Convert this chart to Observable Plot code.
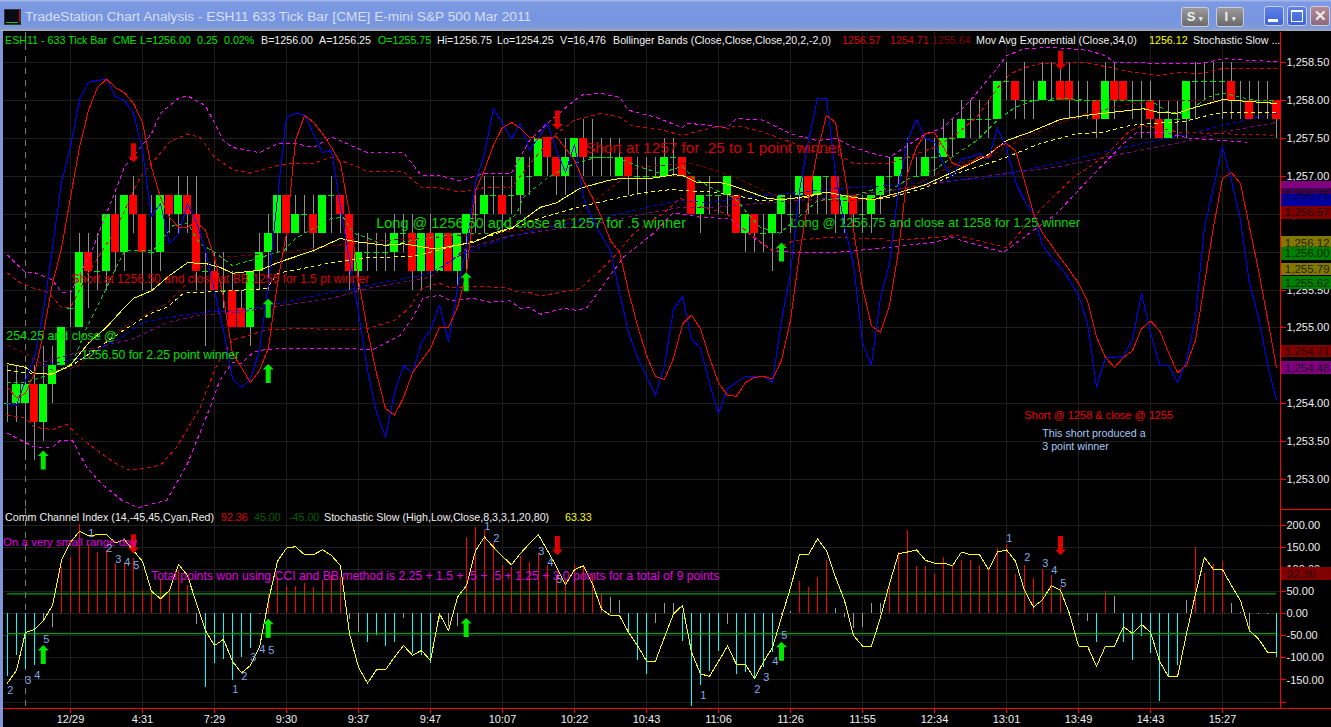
<!DOCTYPE html>
<html><head><meta charset="utf-8">
<script src="https://cdn.jsdelivr.net/npm/d3@7"></script>
<script src="https://cdn.jsdelivr.net/npm/@observablehq/plot@0.6"></script>
<style>
html,body{margin:0;padding:0;background:#000;width:1331px;height:727px;overflow:hidden;font-family:"Liberation Sans",Arial,sans-serif}
#bar{position:absolute;left:0;top:0;width:1331px;height:31px;background:linear-gradient(#a9bdec 0,#7c99e2 8%,#7795e0 70%,#7f9ad8 90%,#a8aeb8 100%)}
#title{position:absolute;left:25px;top:9px;font-size:13.7px;color:#d5dff3;white-space:nowrap}
.ic{position:absolute;box-sizing:border-box;border-radius:3px;color:#eee;font-weight:bold;text-align:center}
.lg{position:absolute;font-size:10.7px;white-space:nowrap;line-height:13px}
#pp,#cp{position:absolute;left:0}
#pp{top:32px}#cp{top:508px}
svg{display:block;overflow:visible}
#lb{position:absolute;left:0;top:31px;width:3px;height:696px;background:#7f96d8}
</style></head><body>
<div id="pp"></div><div id="cp"></div>
<div id="lb"></div>
<div id="bar">
 <div style="position:absolute;left:4px;top:9px;width:15px;height:14px;background:#0a0a14;border:1px solid #334"><div style="position:absolute;left:1px;bottom:1px;width:12px;height:1px;background:#0c0"></div><div style="position:absolute;right:0;top:0;width:1px;height:12px;background:#c00"></div></div>
 <div id="title">TradeStation Chart Analysis - ESH11 633 Tick Bar [CME] E-mini S&amp;P 500 Mar 2011</div>
 <div class="ic" style="left:1181px;top:7px;width:28px;height:20px;background:linear-gradient(#9a9a9a,#6a6a6a);border:1px solid #ccd;font-size:13px;line-height:18px">S <span style="font-size:7px">▾</span></div>
 <div class="ic" style="left:1216px;top:7px;width:28px;height:20px;background:linear-gradient(#9a9a9a,#6a6a6a);border:1px solid #ccd;font-size:13px;line-height:18px">I <span style="font-size:7px">▾</span></div>
 <div class="ic" style="left:1264px;top:6px;width:20px;height:20px;background:linear-gradient(#5d82e8,#3b62d8);border:1px solid #ccd"><div style="position:absolute;left:3px;bottom:3px;width:10px;height:3px;background:#fff"></div></div>
 <div class="ic" style="left:1287px;top:6px;width:20px;height:20px;background:linear-gradient(#5d82e8,#3b62d8);border:1px solid #ccd"><div style="position:absolute;left:3px;top:3px;width:10px;height:9px;border:1px solid #fff;border-top-width:2px"></div></div>
 <div class="ic" style="left:1310px;top:6px;width:20px;height:20px;background:linear-gradient(#b58a98,#8d6a7a);border:1px solid #ccd;font-size:15px;line-height:17px">✕</div>
</div>
<script>
// ---------- bars ----------
const opens=[1254,1254,1254,1254.25,1253.75,1254.25,1254.5,1255.25,1255,1256,
1255.75,1255.75,1256.5,1256,1256.75,1256.5,1256,1256,1256.75,1256.5,
1256.75,1256.5,1255.75,1255.75,1255.5,1255.5,1255.25,1255,1255.75,1256,
1256.25,1256.75,1256.25,1256.5,1256.5,1256.25,1256.75,1256.75,1256.5,1255.75,
1256,1256,1256,1256,1256.25,1256.25,1255.75,1256.25,1255.75,1256.25,
1255.75,1256.25,1256.5,1256.5,1256.75,1256.75,1256.75,1256.75,1257,1257,
1257.5,1257.25,1257,1257.25,1257.5,1257.25,1257.25,1257.25,1257,1257.25,
1257,1257,1257,1257,1257.25,1257.25,1257,1256.5,1256.75,1256.75,
1256.75,1256.75,1256.25,1256.5,1256.25,1256.25,1256.5,1256.5,1256.75,1257,
1256.75,1257,1257,1256.5,1256.75,1256.5,1256.5,1256.75,1257,1257,
1257.25,1257,1257,1257.25,1257.25,1257.5,1257.5,1257.75,1257.75,1257.75,
1257.75,1258.25,1258.25,1258,1258,1258,1258,1258.25,1258.25,1258,
1258,1258,1257.75,1258.25,1258.25,1258,1258,1258,1257.75,1257.5,
1257.75,1257.75,1258.25,1258.25,1258.25,1258.25,1258.25,1258,1258,1258,
1258,1258];
const closes=[1254,1254.25,1254.25,1253.75,1254.25,1254.5,1255,1255.25,1256,1255.75,
1255.75,1256.5,1256,1256.75,1256.5,1256,1256,1256.75,1256.5,1256.75,
1256.5,1255.75,1255.75,1255.5,1255.5,1255,1255,1255.75,1256,1256.25,
1256.75,1256.25,1256.5,1256.5,1256.25,1256.75,1256.75,1256.5,1255.75,1256,
1256,1256,1256,1256.25,1256.25,1255.75,1256.25,1255.75,1256.25,1255.75,
1256.25,1256.5,1256.5,1256.75,1256.75,1256.5,1256.75,1257.25,1257,1257.5,
1257.25,1257,1257.25,1257.5,1257.25,1257.25,1257.25,1257.25,1257.25,1257,
1257,1257,1257,1257.25,1257.25,1257,1256.5,1256.75,1256.75,1256.75,
1257,1256.25,1256.5,1256.25,1256.25,1256.5,1256.75,1256.5,1257,1256.75,
1257,1257,1256.5,1256.75,1256.5,1256.5,1256.75,1257,1257,1257.25,
1257.25,1257,1257.25,1257.25,1257.5,1257.5,1257.75,1257.75,1257.75,1257.75,
1258.25,1258.25,1258,1258,1258,1258.25,1258,1258,1258,1258,
1258,1257.75,1258.25,1258,1258,1258,1258,1257.75,1257.5,1257.75,
1257.75,1258.25,1258.25,1258.25,1258.25,1258.25,1258,1258,1257.75,1258,
1258,1257.75];
const highs=[1254.5,1254.5,1254.5,1254.5,1254.75,1254.75,1255,1255.5,1256.25,1256.25,
1256.25,1256.5,1256.75,1256.75,1257,1256.5,1256.75,1256.75,1256.75,1257,
1257,1257,1256,1256,1256,1255.75,1255.5,1255.75,1256.25,1256.5,
1256.75,1256.75,1256.75,1256.75,1256.75,1256.75,1257,1256.75,1256.5,1256.25,
1256.25,1256.25,1256.25,1256.5,1256.5,1256.5,1256.25,1256.5,1256.25,1256.25,
1256.25,1256.5,1256.75,1257,1257,1257,1257,1257.25,1257.25,1257.5,
1257.5,1257.25,1257.5,1257.5,1257.75,1257.75,1257.5,1257.5,1257.5,1257.25,
1257.25,1257.25,1257.25,1257.5,1257.5,1257.25,1257,1256.75,1257,1256.75,
1257,1256.75,1256.5,1256.5,1256.5,1256.5,1256.75,1256.75,1257,1257,
1257,1257,1257,1256.75,1256.75,1256.75,1256.75,1257,1257.25,1257.25,
1257.5,1257.25,1257.5,1257.5,1257.75,1257.75,1258,1258,1258,1258,
1258.25,1258.5,1258.25,1258.5,1258.25,1258.5,1258.5,1258.5,1258.5,1258.25,
1258.25,1258,1258.5,1258.5,1258.25,1258.25,1258.25,1258.25,1258,1258,
1258,1258.25,1258.5,1258.5,1258.5,1258.5,1258.5,1258.25,1258.25,1258.25,
1258.25,1258];
const lows=[1253.75,1253.75,1253.25,1253.25,1253.5,1254,1254.5,1255,1255,1255.25,
1255.5,1255.5,1255.75,1255.75,1256.25,1255.5,1255.5,1255.75,1256.25,1256.25,
1256.25,1255.5,1254.75,1255.5,1255.25,1255,1255,1254.75,1255.5,1255.5,
1256,1256,1256.25,1256.25,1256,1256.25,1256.25,1256.25,1255.5,1255.5,
1255.75,1255.75,1255.75,1255.75,1256,1255.5,1255.5,1255.5,1255.75,1255.75,
1255.5,1255.75,1256.25,1256.25,1256.5,1256.25,1256.5,1256.5,1256.75,1257,
1257,1256.75,1256.75,1257.25,1257,1257,1257,1257,1257,1256.75,
1256.75,1256.75,1257,1257,1257,1257,1256.5,1256.25,1256.5,1256.5,
1256.5,1256.25,1256,1256,1256,1255.75,1256.25,1256.25,1256.5,1256.5,
1256.5,1256.5,1256.25,1256.25,1256.25,1256.25,1256.25,1256.5,1256.75,1256.75,
1257,1257,1257,1257,1257.25,1257.25,1257.5,1257.5,1257.5,1257.5,
1257.75,1258,1257.75,1257.75,1257.75,1258,1258,1258,1257.75,1257.75,
1257.75,1257.5,1257.75,1257.75,1258,1257.75,1257.5,1257.5,1257.5,1257.5,
1257.5,1257.5,1257.75,1258,1258,1257.75,1257.75,1257.75,1257.75,1257.75,
1257.75,1257.5];

// ---------- stochastic traces drawn in the price pane ----------
const stochBlue=[1254,1253.98,1254.31,1254.61,1255.23,1256.05,1256.92,1257.38,1258.01,1258.24,
1258.26,1258.28,1258.05,1258,1257.83,1257.34,1256.47,1256.64,1256.11,1256.23,
1256.64,1256.39,1256.02,1255.49,1254.97,1254.33,1254.22,1254.33,1254.7,1255.59,
1256.72,1257.78,1257.83,1257.81,1257.56,1257.31,1257.34,1256.59,1255.89,1255.21,
1254.44,1253.89,1253.56,1254.14,1254.51,1254.4,1254.81,1254.97,1255.3,1254.82,
1255.53,1256.06,1256.92,1257.3,1257.89,1257.7,1257.49,1257.7,1257.34,1257.51,
1257.7,1257.34,1257.05,1257.42,1256.72,1256.42,1256.22,1256.02,1255.47,1254.94,
1254.61,1254.37,1254.11,1254.51,1255.24,1255.42,1254.86,1254.73,1254.27,1253.87,
1254.2,1254.28,1254.36,1254.36,1254.36,1254.28,1255.1,1255.72,1256.81,1257.47,
1258.03,1258.03,1257.04,1256.33,1255.85,1254.8,1254.51,1255.4,1255.85,1256.85,
1257.47,1257.75,1257.5,1257.45,1257.17,1256.98,1257.23,1257.25,1257.3,1257.23,
1257.64,1257.37,1256.92,1256.68,1256.51,1256.09,1255.93,1255.8,1255.63,1255.43,
1255.06,1254.22,1254.61,1254.61,1254.63,1254.84,1255.46,1254.94,1254.51,1254.51,
1254.28,1254.57,1255.14,1256.33,1256.85,1257.39,1256.94,1256.42,1255.59,1255.14,
1254.53,1254.05];
const stochRed=[1254.22,1254.08,1254.14,1254.4,1254.93,1255.59,1256.05,1256.72,1257.38,1257.87,
1258.17,1258.28,1258.17,1258.1,1257.96,1257.71,1257.12,1256.72,1256.46,1256.33,
1256.33,1256.39,1256.29,1255.93,1255.4,1254.66,1254.48,1254.28,1254.44,1254.74,
1255.59,1256.25,1257.47,1257.8,1257.71,1257.56,1257.38,1257.17,1256.51,1255.63,
1254.97,1254.4,1253.94,1253.85,1254.08,1254.41,1254.57,1254.73,1255.01,1255.01,
1255.27,1255.72,1256.81,1257.08,1257.41,1257.64,1257.71,1257.63,1257.51,1257.5,
1257.51,1257.52,1257.37,1257.21,1256.94,1256.72,1256.46,1256.15,1256,1255.49,
1255.03,1254.64,1254.36,1254.32,1254.6,1255.05,1255.17,1254.99,1254.61,1254.28,
1254.11,1254.1,1254.28,1254.35,1254.36,1254.33,1254.57,1255.1,1255.98,1256.68,
1257.34,1257.8,1257.71,1257.04,1256.29,1255.53,1255.03,1254.94,1255.3,1256.02,
1257.04,1257.38,1257.56,1257.58,1257.38,1257.17,1257.13,1257.17,1257.26,1257.25,
1257.39,1257.43,1257.34,1256.94,1256.51,1256.25,1256.09,1255.92,1255.76,1255.59,
1255.36,1254.88,1254.61,1254.48,1254.61,1254.7,1254.99,1255.09,1254.97,1254.68,
1254.41,1254.51,1254.84,1255.59,1256.33,1256.97,1257.05,1256.9,1256.33,1255.76,
1255.13,1254.48];

// ---------- bands and averages as [bar, price] ----------
const magentaUpper=[[0,1255.96],[2,1255.73],[3,1255.73],[5,1255.63],[6,1255.47],[7,1255.46],[9.5,1256.05],[11,1256.51],[13,1257.12],[14.5,1257.34],[16,1257.56],[17,1257.83],[19,1258.03],[20,1258.06],[22,1257.93],[23,1257.7],[24,1257.47],[25,1257.38],[28,1257.31],[30,1257.43],[32,1257.43],[34,1257.38],[36,1257.52],[40,1257.31],[44,1257.31],[46,1257.01],[48,1257.01],[50.3,1256.94],[53,1257.04],[56,1257.04],[58,1257.47],[60,1257.7],[63,1258],[64,1258.08],[66,1258.09],[68,1258.04],[69,1257.87],[72,1257.78],[75,1257.64],[75.5,1257.7],[78,1257.67],[80,1257.64],[81,1257.76],[84,1257.74],[87,1257.56],[90,1257.47],[92,1257.5],[94,1257.38],[97,1257.27],[98,1257.25],[102,1257.56],[104,1257.64],[107,1258],[110,1258.43],[111,1258.59],[113,1258.68],[116,1258.7],[120,1258.66],[122,1258.59],[123,1258.5],[128,1258.49],[133,1258.49],[135,1258.55],[141,1258.51]];
const redUpper=[[0,1255.72],[1.5,1255.59],[3,1255.52],[4.5,1255.47],[6,1255.27],[7,1255.27],[9,1255.73],[12,1256.29],[14.7,1256.98],[16.6,1257.25],[18,1257.45],[20,1257.56],[21.4,1257.51],[23,1257.25],[25,1257.09],[27,1257.04],[30,1257.14],[31.8,1257.17],[34,1257.17],[36,1257.25],[39,1257.12],[40,1257.06],[44,1257.06],[46,1256.85],[48,1256.85],[50.3,1256.79],[53,1256.85],[56,1256.85],[57.5,1257.08],[59,1257.3],[61,1257.56],[63,1257.74],[66,1257.83],[68,1257.78],[69.5,1257.66],[72,1257.63],[75,1257.54],[79,1257.66],[80,1257.63],[81,1257.67],[84,1257.58],[87,1257.45],[90,1257.31],[92,1257.31],[94,1257.17],[97,1257.17],[98,1257.17],[100,1257.25],[103,1257.38],[105.5,1257.56],[107.7,1257.78],[110,1258.16],[111.4,1258.35],[113,1258.43],[115,1258.49],[119.8,1258.5],[123,1258.42],[125,1258.37],[128,1258.33],[130,1258.37],[132.5,1258.35],[135,1258.42],[141,1258.42]];
const greenFast=[[0,1254.28],[2,1254.28],[5,1254.4],[7.2,1254.53],[8.8,1255.01],[10.3,1255.36],[11.4,1255.63],[13,1256.02],[16.2,1256.02],[18.4,1256.35],[20,1256.38],[21.4,1256.11],[23,1256],[25,1255.82],[30.7,1256.02],[32,1256.18],[35.9,1256.44],[37.3,1256.46],[38.4,1256.25],[40,1256.19],[41.8,1256.09],[47,1256.19],[51,1256.25],[54,1256.25],[56.6,1256.51],[57.3,1256.72],[60,1256.98],[63,1257.17],[65.5,1257.25],[67.7,1257.25],[70.3,1257.12],[72.5,1257.04],[75,1257.13],[76.2,1256.98],[78.8,1256.81],[80.7,1256.72],[83.6,1256.33],[85.8,1256.25],[88.4,1256.51],[90,1256.68],[93.3,1256.72],[97,1256.85],[98,1256.81],[100.3,1256.98],[103,1257.08],[105.5,1257.3],[107.7,1257.47],[110,1257.74],[112,1257.91],[114,1258],[117.3,1258.03],[120,1258],[124,1258],[127,1258],[129,1257.84],[131,1257.83],[133.3,1258.04],[135,1258.1],[137,1258.04],[139,1258],[141,1258]];
const emaSolid=[[0,1254.53],[2,1254.48],[3,1254.4],[5,1254.39],[7,1254.51],[9,1254.8],[11,1255.01],[13,1255.27],[14,1255.39],[16,1255.49],[18,1255.69],[20,1255.86],[22,1255.85],[23.6,1255.8],[25,1255.72],[28,1255.76],[30,1255.86],[34,1256.02],[37,1256.18],[38.5,1256.14],[42,1256.09],[44,1256.11],[47,1256.05],[48,1256.05],[51.8,1256.13],[54,1256.25],[56.2,1256.33],[59.2,1256.59],[61,1256.65],[63.6,1256.84],[66.6,1256.94],[68,1256.97],[71.4,1256.97],[74,1257.02],[75,1257.01],[76.6,1256.92],[79.6,1256.91],[81.4,1256.84],[84.4,1256.71],[85.9,1256.69],[88,1256.72],[91,1256.79],[94,1256.72],[96.2,1256.69],[98,1256.75],[101.8,1256.88],[105.5,1257.08],[108.8,1257.27],[111,1257.47],[113.6,1257.58],[117,1257.75],[120.3,1257.81],[123.3,1257.85],[126.2,1257.89],[128,1257.84],[130,1257.83],[131.4,1257.89],[135,1258.01],[141,1257.96]];
const yellowDash=[[0,1254.44],[3,1254.4],[5,1254.4],[7.2,1254.51],[8,1254.57],[12.9,1254.97],[15.9,1255.19],[17.7,1255.27],[19.6,1255.46],[21.4,1255.47],[25,1255.49],[28.8,1255.52],[30,1255.72],[36,1255.86],[40,1255.93],[45,1255.94],[50.7,1256.11],[53,1256.19],[55.5,1256.29],[59,1256.44],[63,1256.58],[66.6,1256.68],[70,1256.77],[74,1256.83],[75,1256.81],[78.4,1256.79],[80.7,1256.75],[83.6,1256.68],[85.9,1256.69],[88.8,1256.72],[91,1256.79],[94,1256.72],[96,1256.69],[98,1256.72],[101.8,1256.84],[105.5,1257.04],[109,1257.17],[111,1257.25],[114.7,1257.43],[118.8,1257.56],[121.8,1257.58],[124.7,1257.67],[127.7,1257.7],[130.7,1257.72],[133.3,1257.8],[135,1257.84],[141,1257.84]];
const darkRedMid=[[0,1254.77],[2,1254.66],[5,1254.44],[7.7,1254.48],[12,1254.93],[14.7,1255.14],[17.7,1255.32],[20,1255.59],[21.4,1255.8],[23.6,1255.93],[28.8,1255.98],[32,1256.02],[40,1256.14],[47,1256.19],[55,1256.26],[60,1256.33],[63,1256.46],[67,1256.84],[70,1257.12],[72,1257.14],[76,1257.17],[78,1257.1],[81,1256.98],[84,1256.81],[86,1256.72],[90,1256.68],[94,1256.68],[98,1256.72],[101.8,1256.94],[105.5,1257.17],[109,1257.25],[113,1257.51],[117,1257.7],[120,1257.83],[125,1257.96],[127.6,1258],[141,1258]];
const blueDash=[[4,1254.51],[8.4,1254.61],[12.5,1254.86],[15,1255.07],[17.7,1255.14],[22,1255.21],[25.9,1255.23],[30.7,1255.34],[36,1255.47],[40,1255.56],[47,1255.72],[50.6,1255.98],[55.5,1256.19],[60,1256.33],[66.6,1256.46],[71,1256.59],[74.8,1256.68],[77.8,1256.65],[81.4,1256.71],[92.5,1256.84],[98,1256.88],[101.8,1256.92],[109,1256.98],[116.6,1257.17],[124,1257.38],[127.7,1257.47],[131.4,1257.56],[135,1257.67],[141,1257.83]];
const purpleDash=[[4,1254.55],[8.4,1254.7],[14,1254.86],[17.7,1255.07],[21.4,1255.17],[25.9,1255.21],[30.7,1255.3],[36,1255.39],[40,1255.52],[47,1255.67],[51,1256.05],[56,1256.22],[66,1256.39],[71,1256.51],[74.8,1256.59],[78,1256.59],[92,1256.72],[98,1256.81],[109,1257.01],[116.6,1257.12],[124,1257.3],[131.4,1257.47],[135,1257.58],[141,1257.71]];
const redLower=[[0,1253.85],[2,1253.81],[3,1253.69],[5,1253.66],[6.6,1253.73],[8.4,1253.52],[11.8,1253.23],[13.6,1253.12],[17,1253.19],[18.8,1253.43],[21.4,1253.95],[23.3,1254.53],[25,1254.84],[26.8,1254.9],[28.8,1254.98],[32.5,1254.99],[37.7,1254.98],[40,1254.99],[43,1255.1],[44.7,1255.27],[46,1255.52],[48,1255.59],[49.2,1255.53],[51.8,1255.55],[55.5,1255.53],[57,1255.46],[58,1255.47],[59.2,1255.42],[61,1255.46],[63.6,1255.52],[65.5,1255.72],[67.7,1255.98],[69.6,1256.25],[73.3,1256.55],[74.7,1256.71],[77.3,1256.59],[79.9,1256.51],[82,1256.29],[85,1256.02],[87.3,1256.15],[90.7,1256.19],[97,1256.18],[98,1256.15],[101.8,1256.18],[105.5,1256.22],[111,1256.06],[115,1256.59],[118.4,1256.98],[121.8,1257.25],[124.7,1257.6],[126.2,1257.67],[130.3,1257.58],[135,1257.56],[137.7,1257.55],[141,1257.54]];
const magentaLower=[[0,1253.61],[3,1253.43],[5,1253.43],[5.9,1253.52],[7.2,1253.52],[8.8,1253.16],[10.7,1252.92],[12.7,1252.73],[14.5,1252.63],[17.7,1252.73],[20,1253.21],[22.5,1253.95],[23.6,1254.31],[25,1254.55],[26,1254.53],[27.3,1254.68],[28.8,1254.72],[32.5,1254.73],[40.7,1254.72],[43.6,1254.9],[45,1255.13],[46.2,1255.4],[48,1255.43],[49.2,1255.36],[51.8,1255.39],[53.6,1255.34],[55.8,1255.36],[57,1255.26],[58,1255.27],[59.2,1255.18],[61.8,1255.26],[63.3,1255.23],[64.4,1255.27],[66.6,1255.63],[68.4,1255.93],[71.8,1256.25],[74,1256.52],[77,1256.46],[80.3,1256.44],[82.9,1256.19],[85,1256.02],[87,1256],[92.5,1256],[97,1256.05],[102.9,1256.13],[105,1256.19],[109,1256.05],[110.7,1256],[116.6,1256.51],[120.3,1256.98],[124,1257.43],[125.5,1257.58],[128.4,1257.58],[131.4,1257.5],[137.7,1257.45]];

// ---------- CCI pane ----------
const cciValues=[-143,-94,-126,-118,-15,-30,106,128,202,158,140,143,113,113,125,53,53,75,53,98,64,-24,-168,-112,-103,-151,-98,-79,-2,43,83,62,62,68,60,75,87,83,-14,-42,-64,-50,-73,-64,-10,-91,-94,-113,-12,-29,-29,174,196,189,159,110,106,130,116,136,110,87,75,112,106,87,45,36,30,-45,-106,-137,-21,23,23,-62,-210,-162,-130,-85,-24,-137,-132,-147,-121,-87,-4,6,73,59,82,121,13,-9,-34,-30,23,24,60,140,189,107,107,89,127,107,121,121,109,102,147,157,89,109,79,100,87,59,2,-4,-17,-66,51,39,-66,-106,-51,-91,-198,-143,-117,30,150,92,112,119,23,2,-42,-1,-1,-98];
const stochSlow=[-157,-128,-42,-36,-15,19,121,162,187,177,179,179,161,168,143,119,51,34,53,112,87,23,-38,-72,-58,-108,-134,-117,-76,30,119,149,152,134,134,145,132,109,-45,-121,-157,-127,-127,-98,-72,-94,-83,-106,0,-38,38,64,143,174,151,130,111,137,159,179,143,107,66,100,109,68,11,-4,-4,-42,-72,-107,-107,-53,0,19,-87,-136,-142,-108,-73,-115,-115,-147,-109,-76,-8,59,134,134,170,143,83,30,-49,-73,-73,-8,68,136,140,145,121,115,115,109,140,134,134,100,140,145,119,53,15,32,64,53,0,-73,-73,-119,-73,-73,-29,-45,-24,-42,-107,-143,-143,-45,45,128,100,100,64,30,-38,-57,-87,-87];
const waveCounts=[["2",0.3,-174],["3",2.3,-151],["4",3.3,-140],["5",4.3,-58],["1",9.3,182],["2",11.3,148],["3",12.3,123],["4",13.3,116],["5",14.3,109],["1",25.3,-172],["2",26.3,-142],["3",27.3,-99],["4",28.3,-81],["5",29.3,-83],["1",53.3,198],["2",54.3,171],["3",59.3,141],["4",60.3,116],["5",61.3,78],["1",77.3,-185],["2",83.3,-172],["3",84.3,-144],["4",85.3,-108],["5",86.3,-49],["1",111.3,171],["2",113.3,128],["3",115.3,114],["4",116.3,98],["5",117.3,69]];
const cciBands=[45,-45];

// ---------- axes and labels ----------
const timeLabels=["12/29","4:31","7:29","9:30","9:37","9:47","10:07","10:22","10:43","11:06","11:26","11:55","12:34","13:01","13:49","14:43","15:27"];
const timeBars=timeLabels.map((_,k)=>7+8*k);
const priceTicks=[1258.5,1258,1257.5,1257,1256.5,1256,1255.5,1255,1254.5,1254,1253.5,1253];
const cciTicks=[200,150,100,50,0,-50,-100,-150,-200];
const priceFlags=[["",1256.84,"#800080"],["1,256.75",1256.75,"#400050"],["",1256.67,"#0000a0"],["1,256.57",1256.52,"#800000"],["1,256.12",1256.12,"#807800"],["1,256.00",1255.98,"#008000"],["1,255.79",1255.77,"#807800"],["1,255.62",1255.59,"#008000"],["1,254.71",1254.69,"#800000"],["1,254.48",1254.47,"#800080"]];
const upArrowsPrice=[[3.97,1253.26],[28.97,1254.4],[28.97,1255.26],[50.96,1255.61],[86,1256]];
const downArrowsPrice=[[14,1257.31],[61.1,1257.74],[117,1258.53]];
const upArrowsCci=[[3.97,-92],[28.97,-33],[50.96,-31],[86,-85]];
const downArrowsCci=[[14,159],[61.1,155],[117,155]];
const priceNotes=[
 ["Short at 1257 for .25 to 1 point winner",64.2,1257.37,"#d80000",15.3],
 ["Long @ 1256.50 and close at 1257 for .5 winner",40.97,1256.38,"#00d800",14.5],
 ["Long @ 1256.75 and close at 1258 for 1.25 winner",86.97,1256.38,"#00d800",12.9],
 ["Short at 1256.50 and close at BB 1255 for 1.5 pt winner",7.1,1255.64,"#d80000",12.1],
 ["254.25 and close @",-0.14,1254.89,"#00e000",12.4],
 ["1256.50 for 2.25 point winner",8.19,1254.64,"#00e000",12.2],
 ["Short @ 1258 & close @ 1255",112.97,1253.85,"#f00000",11],
 ["This short produced a",114.97,1253.61,"#a8c8f8",10.7],
 ["3 point winner",114.97,1253.43,"#a8c8f8",10.7]];
const cciNotes=[
 ["On a very small range day",-0.5,162,"#e000e0",11.5],
 ["Total points won using CCI and BB method is 2.25 + 1.5 + .5 + .5 + 1.25 + 3.0 points for a total of 9 points",15.97,85,"#e000e0",12.2]];

const font='"Liberation Sans",Arial,sans-serif';
const gridColor="#1e1e1e";
const crisp="crispEdges";
const dash="3,4";
const arrowHead={draw(c,l,r){c.moveTo(0,-l);c.lineTo(r,-l+r);c.lineTo(2.5,-l+r);c.lineTo(2.5,0);c.lineTo(-2.5,0);c.lineTo(-2.5,-l+r);c.lineTo(-r,-l+r);c.closePath();}};
const arrows=(data,rotate,color)=>Plot.vector(data,{x:d=>d[0],y:d=>d[1],rotate,length:19,r:5.5,shape:arrowHead,fill:color,stroke:color,strokeWidth:0,anchor:"middle"});
const pts=(arr,stroke,d)=>Plot.line(arr,{x:d=>d[0],y:d=>d[1],stroke,strokeWidth:1,strokeDasharray:d,shapeRendering:crisp});
const idx=(arr,stroke)=>Plot.line(arr,{x:(d,i)=>i,y:d=>d,stroke,strokeWidth:1,shapeRendering:crisp});
const notes=(arr)=>Plot.text(arr,{x:d=>d[1],y:d=>d[2],text:d=>d[0],fill:d=>d[3],fontSize:d=>d[4],textAnchor:"start",lineAnchor:"middle",fontFamily:font});

const bars=opens.map((o,i)=>({i,o,c:closes[i],h:highs[i],l:lows[i]}));
const dashVert=Plot.ruleX([2],{stroke:"#777",strokeDasharray:"6,6",shapeRendering:crisp});
const xS={domain:[0,141],range:[7,1276],axis:null};
const redEdge=141.44, farEdge=147.2;

const price=Plot.plot({width:1331,height:476,marginTop:0,marginLeft:0,marginRight:51,marginBottom:0,
 style:{background:"transparent",color:"#eee",fontFamily:font,fontSize:"11px"},
 x:xS,y:{domain:[1252.62,1258.895],range:[476,0],axis:null},
 marks:[
  Plot.ruleY(priceTicks,{stroke:gridColor,shapeRendering:crisp}),
  Plot.ruleX(timeBars,{stroke:gridColor,shapeRendering:crisp}),
  dashVert,
  Plot.ruleX(bars,{x:"i",y1:"l",y2:"h",stroke:"#8e8e8e",shapeRendering:crisp}),
  Plot.rect(bars.filter(d=>d.o!==d.c),{x1:d=>d.i-.39,x2:d=>d.i+.39,y1:"o",y2:"c",fill:d=>d.c>d.o?"#00ff00":"#ff0000",shapeRendering:crisp}),
  Plot.ruleY(bars.filter(d=>d.o===d.c),{y:"c",x1:d=>d.i-.36,x2:d=>d.i+.36,stroke:"#00e000",shapeRendering:crisp}),
  pts(purpleDash,"#800080",dash),
  pts(blueDash,"#0000e0",dash),
  pts(darkRedMid,"#800000",dash),
  pts(greenFast,"#00d000",dash),
  pts(magentaUpper,"#ff00ff",dash),
  pts(magentaLower,"#ff00ff",dash),
  pts(redUpper,"#e00000",dash),
  pts(redLower,"#e00000",dash),
  pts(yellowDash,"#ffff00",dash),
  pts(emaSolid,"#ffff00",null),
  idx(stochBlue,"#0000ff"),
  idx(stochRed,"#ff0000"),
  arrows(upArrowsPrice,0,"#00e800"),
  arrows(downArrowsPrice,180,"#e00000"),
  notes(priceNotes),
  Plot.ruleX([redEdge],{stroke:"#ff0000",shapeRendering:crisp}),
  Plot.axisY(priceTicks,{anchor:"right",tickSize:5,tickPadding:1,stroke:"#ff0000",fill:"#eeeeee",tickFormat:d3.format(",.2f"),label:null,fontSize:11,shapeRendering:crisp}),
  Plot.rect(priceFlags,{x1:redEdge+.1,x2:farEdge,y1:d=>d[1]-.085,y2:d=>d[1]+.085,fill:d=>d[2],shapeRendering:crisp}),
  Plot.text(priceFlags,{x:farEdge-.3,y:d=>d[1],text:d=>d[0],fill:"#000",fillOpacity:.75,textAnchor:"end",fontSize:11.5,fontFamily:font})
 ]});
document.getElementById("pp").appendChild(price);

const cci=Plot.plot({width:1331,height:219,marginTop:0,marginLeft:0,marginRight:51,marginBottom:19,
 style:{background:"transparent",color:"#eee",fontFamily:font,fontSize:"11px"},
 x:xS,y:{domain:[-214.6,238.6],range:[200,0],axis:null},
 marks:[
  Plot.ruleY(cciTicks,{stroke:gridColor,shapeRendering:crisp}),
  Plot.ruleX(timeBars,{stroke:gridColor,shapeRendering:crisp}),
  dashVert,
  Plot.ruleY([0],{stroke:"#3a3a3a",strokeDasharray:"1,3",shapeRendering:crisp}),
  Plot.ruleX(cciValues,{x:(d,i)=>i,y1:0,y2:d=>d,stroke:d=>d>=43?"#ff0000":d<=-45?"#00ffff":"#9a9a9a",shapeRendering:crisp}),
  Plot.ruleY(cciBands,{y:d=>d,x1:()=>0,x2:()=>141,stroke:()=>"#00a000",strokeWidth:1.2}),
  idx(stochSlow,"#ffff00"),
  arrows(upArrowsCci,0,"#00e800"),
  arrows(downArrowsCci,180,"#e00000"),
  notes(cciNotes),
  Plot.text(waveCounts,{x:d=>d[1],y:d=>d[2],text:d=>d[0],fill:"#82a8e8",fontSize:11,fontFamily:font}),
  Plot.ruleX([redEdge],{stroke:"#ff0000",shapeRendering:crisp}),
  Plot.ruleY([-214.6],{stroke:"#ff0000",strokeWidth:1,shapeRendering:crisp}),
  Plot.ruleY([-214.6],{x1:redEdge,x2:farEdge,stroke:"#ff0000",shapeRendering:crisp}),
  Plot.ruleY([236],{x1:redEdge,x2:farEdge,stroke:"#ff0000",shapeRendering:crisp}),
  Plot.axisY(cciTicks,{anchor:"right",tickSize:5,tickPadding:1,stroke:"#ff0000",fill:"#eeeeee",tickFormat:d=>d===-200?"":d.toFixed(2),label:null,fontSize:11,shapeRendering:crisp}),
  Plot.rect([92.36],{x1:redEdge+.1,x2:farEdge,y1:d=>d-18,y2:d=>d+12,fill:"#800000",shapeRendering:crisp}),
  Plot.text([92.36],{x:redEdge+.7,y:d=>d-3,text:d=>d.toFixed(2),fill:"#000",fillOpacity:.75,textAnchor:"start",fontSize:11.5,fontFamily:font}),
  Plot.axisX(timeBars,{tickSize:5,tickPadding:2,stroke:"#ff0000",fill:"#eeeeee",tickFormat:d=>timeLabels[(d-7)/8],label:null,fontSize:11,shapeRendering:crisp})
 ]});
document.getElementById("cp").appendChild(cci);

// legend strips
const topLegend=[["ESH11 - 633 Tick Bar",5,"#00e000"],["CME",113,"#00e000"],["L=1256.00",140,"#00e000"],["0.25",197,"#00e000"],["0.02%",224,"#00e000"],["B=1256.00",261,"#f0f0f0"],["A=1256.25",319,"#f0f0f0"],["O=1255.75",378,"#00e000"],["Hi=1256.75",437,"#f0f0f0"],["Lo=1254.25",497,"#f0f0f0"],["V=16,476",560,"#f0f0f0"],["Bollinger Bands (Close,Close,Close,20,2,-2,0)",613,"#f0f0f0"],["1256.57",842,"#e00000"],["1254.71",890,"#d00000"],["1255.64",932,"#800000"],["Mov Avg Exponential (Close,34,0)",976,"#f0f0f0"],["1256.12",1149,"#ffff00"],["Stochastic Slow ...",1193,"#f0f0f0"]];
const lowLegend=[["Comm Channel Index (14,-45,45,Cyan,Red)",5,"#f0f0f0"],["92.36",221,"#e00000"],["45.00",254,"#006000"],["-45.00",289,"#006000"],["Stochastic Slow (High,Low,Close,8,3,3,1,20,80)",324,"#f0f0f0"],["63.33",565,"#ffff00"]];
const strip=(arr,top)=>arr.forEach(([t,l,c])=>{const e=document.createElement("div");e.className="lg";e.textContent=t;e.style.left=l+"px";e.style.top=top+"px";e.style.color=c;document.body.appendChild(e);});
strip(topLegend,34);strip(lowLegend,511);
</script>
</body></html>
